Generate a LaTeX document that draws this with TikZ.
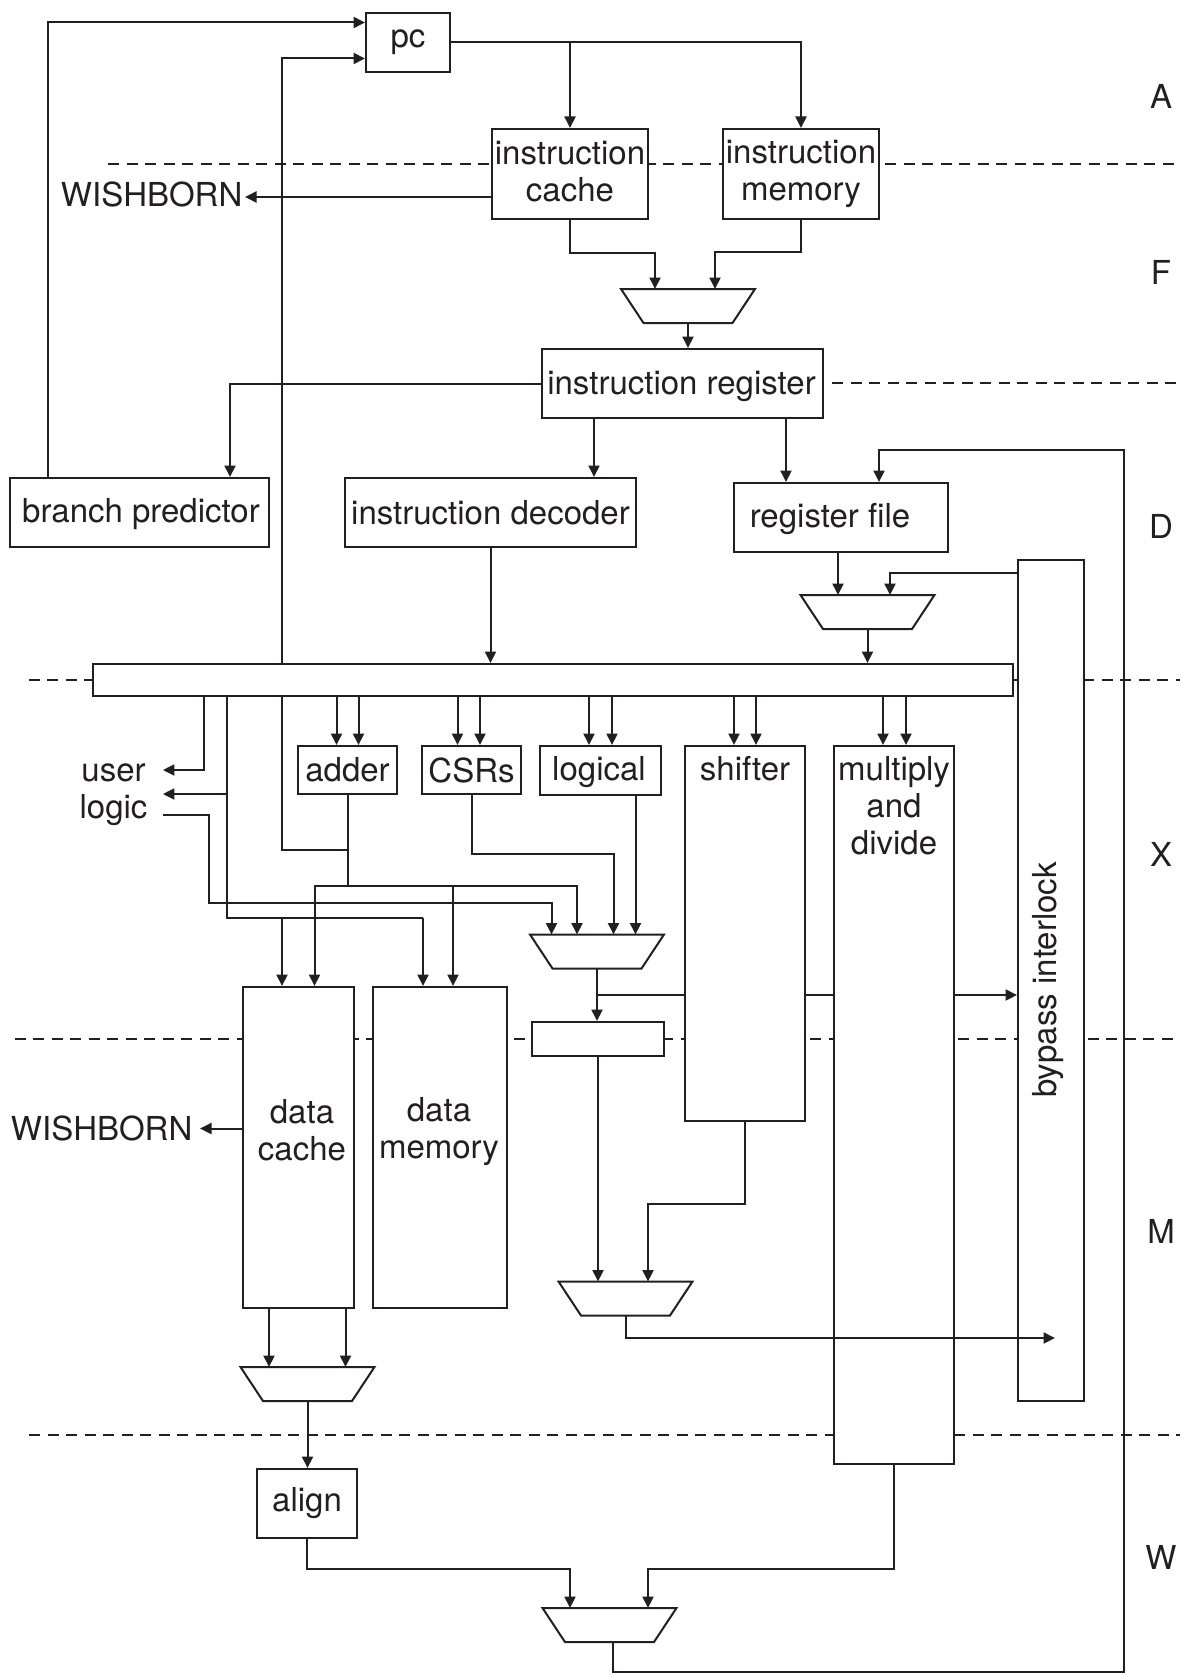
\documentclass[tikz,border=0pt]{standalone}
\usepackage{fontspec}
\setmainfont{TeX Gyre Heros}
\usetikzlibrary{arrows.meta}
\definecolor{ink}{HTML}{231F20}
\pgfdeclarelayer{bg}
\pgfdeclarelayer{fg}
\pgfsetlayers{bg,main,fg}
% multiplexer outline drawn on an invisible rectangular node
\newcommand\muxshape[1]{\draw[draw=ink, line width=2pt, fill=white]
  (#1.north west) -- (#1.north east) -- ([xshift=-22.5pt]#1.south east)
  -- ([xshift=22.5pt]#1.south west) -- cycle;}
\begin{document}
\begin{tikzpicture}[x=1pt,y=-1pt,
  wire/.style={draw=ink, line width=2pt},
  arr/.style={wire, -{Triangle[length=11.5pt,width=11pt]}},
  stage/.style={draw=ink, line width=2pt, dash pattern=on 11pt off 7.5pt},
  blk/.style={draw=ink, line width=2pt, fill=white, inner sep=0pt, align=center,
    text=ink, font=\fontsize{33}{37}\selectfont},
  lbl/.style={inner sep=0pt, align=center, text=ink, font=\fontsize{33}{37}\selectfont},
  muxbox/.style={inner sep=0pt, outer sep=0pt, minimum width=134pt, minimum height=34pt},
]
\useasboundingbox (0,0) rectangle (1192,1675);

% ---------- blocks ----------
\node[blk, minimum width=84pt,  minimum height=59pt]  (pc)      at (408,42.5)   {pc};
\node[blk, minimum width=156pt, minimum height=90pt]  (ic)      at (570,174)    {};
\node[blk, minimum width=156pt, minimum height=90pt]  (im)      at (801,174)    {};
\node[blk, minimum width=281pt, minimum height=69pt]  (ir)      at (682.5,383.5){};
\node[blk, minimum width=259pt, minimum height=69pt]  (bp)      at (139.5,512.5){};
\node[blk, minimum width=291pt, minimum height=69pt]  (id)      at (490.5,512.5){instruction decoder};
\node[blk, minimum width=214pt, minimum height=69pt]  (rf)      at (841,517.5)  {};
\node[blk, minimum width=920pt, minimum height=32pt]  (bus)     at (553,680)    {};
\node[blk, minimum width=66pt,  minimum height=841pt] (bypass)  at (1051,980.5) {};
\node[blk, minimum width=99pt,  minimum height=48pt]  (adder)   at (347.5,770)  {adder};
\node[blk, minimum width=99pt,  minimum height=48pt]  (csr)     at (471.5,770)  {CSRs};
\node[blk, minimum width=121pt, minimum height=49pt]  (logical) at (600.5,770.5){};
\node[blk, minimum width=120pt, minimum height=375pt] (shifter) at (745,933.5)  {};
\node[blk, minimum width=120pt, minimum height=718pt] (mult)    at (894,1105)   {};
\node[blk, minimum width=111pt, minimum height=321pt] (dc)      at (298.5,1147.5){};
\node[blk, minimum width=134pt, minimum height=321pt] (dm)      at (440,1147.5) {};
\node[blk, minimum width=132pt, minimum height=34pt]  (sreg)    at (598,1039)   {};
\node[blk, minimum width=100pt, minimum height=69pt]  (align)   at (307,1503.5) {align};

% ---------- multiplexers ----------
\node[muxbox] (m1) at (688,306)     {};
\node[muxbox] (m4) at (867.5,612)   {};
\node[muxbox] (m2) at (597,951.5)   {};
\node[muxbox] (m3) at (625.5,1298.5){};
\node[muxbox] (m6) at (307.5,1384)  {};
\node[muxbox] (m5) at (609.5,1625)  {};
\muxshape{m1}\muxshape{m4}\muxshape{m2}\muxshape{m3}\muxshape{m6}\muxshape{m5}

% ---------- texts ----------
\node[lbl] (ictxt)  at (570,171.5)  {instruction\\cache};
\node[lbl] (imtxt)  at (801,173.5)  {instruction\\memory};
\node[lbl] (irtxt)  at (681.5,386.5){instruction register};
\node[lbl] (bptxt)  at (141,514.5)  {branch predictor};
\node[lbl] (rftxt)  at (830,519)    {register file};
\node[lbl] (lgtxt)  at (599,772)    {logical};
\node[lbl] (shtxt)  at (745,769)    {shifter};
\node[lbl] (mdtxt)  at (894,806)    {multiply\\and\\divide};
\node[lbl] (dctxt)  at (302,1130)   {data\\cache};
\node[lbl] (dmtxt)  at (439,1131.5) {data\\memory};
\node[lbl, rotate=90] (bitxt) at (1048,980) {bypass interlock};
\node[lbl, outer xsep=15.5pt] (ul) at (113.5,794.3) {user\\logic};
\node[lbl, anchor=east] (wb1) at (242.5,194.5)  {WISHBORN};
\node[lbl, anchor=east] (wb2) at (192.5,1128.5) {WISHBORN};
\node[lbl] (sA) at (1161,96)   {A};
\node[lbl] (sF) at (1161,272)  {F};
\node[lbl] (sD) at (1161,526)  {D};
\node[lbl] (sX) at (1161,854)  {X};
\node[lbl] (sM) at (1161,1231) {M};
\node[lbl] (sW) at (1161,1557) {W};
\coordinate (bpin) at (1055,1338);

% ---------- stage boundaries and wiring below the blocks ----------
\begin{pgfonlayer}{bg}
\fill[white] (0,0) rectangle (1192,1675);
\draw[stage] (108,164.3)   -- (1180,164.3);
\draw[stage] (832,383.3)   -- (1180,383.3);
\draw[stage] (28.7,680)    -- (1180,680);
\draw[stage] (14.5,1038.7) -- (1180,1038.7);
\draw[stage] (29,1435.3)   -- (1180,1435.3);

% fetch
\draw[arr] (pc.east) -| (im.north);
\draw[arr] (ic.north |- pc.east) -- (ic.north);
\draw[arr] (ic.south) -- ++(0,32.5) -| (655,0 |- m1.north);
\draw[arr] (im.south) -- ++(0,32) -| (715,0 |- m1.north);
\draw[arr] (m1.south) -- (m1.south |- ir.north);
\draw[arr] (ic.west |- 0,197) -- ([xshift=2.5pt,yshift=-2.5pt]wb1.east);

% next pc
\draw[arr] (48,0 |- bp.north) |- ([yshift=20pt]pc.west);
\draw[arr] (adder.south |- 0,850) -- (282,850) |- ([yshift=-16pt]pc.west);

% decode
\draw[arr] (ir.west) -| (230,0 |- bp.north);
\draw[arr] (594,0 |- ir.south) -- (594,0 |- id.north);
\draw[arr] (786,0 |- ir.south) -- (786,0 |- rf.north);
\draw[arr] (613,0 |- m5.south) -- (613,1672) -| (1124,450) -| (879,0 |- rf.north);
\draw[arr] (838,0 |- rf.south) -- (838,0 |- m4.north);
\draw[arr] (bypass.west |- 0,573) -| (890,0 |- m4.north);
\draw[arr] (m4.south) -- (m4.south |- bus.north);
\draw[arr] (id.south) -- (id.south |- bus.north);

% execute operands
\draw[arr] (204,0 |- bus.south) |- (ul.east |- 0,770);
\draw[wire] (227,0 |- bus.south) |- (423,918);
\draw[arr] (423,918) -- (423,0 |- dm.north);
\draw[arr] (227,794) -- (ul.east |- 0,794);
\draw[arr] (282,918) -- (282,0 |- dc.north);
\draw[arr] (ul.east |- 0,815) -| (209,903) -| (551.5,0 |- m2.north);
\foreach \x in {336.5,358.5} \draw[arr] (\x,0 |- bus.south) -- (\x,0 |- adder.north);
\foreach \x in {457.5,480}   \draw[arr] (\x,0 |- bus.south) -- (\x,0 |- csr.north);
\foreach \x in {589,612}     \draw[arr] (\x,0 |- bus.south) -- (\x,0 |- logical.north);
\foreach \x in {734,756}     \draw[arr] (\x,0 |- bus.south) -- (\x,0 |- shifter.north);
\foreach \x in {883,906}     \draw[arr] (\x,0 |- bus.south) -- (\x,0 |- mult.north);

% execute results
\draw[arr] (adder.south) -- (adder.south |- 0,886) -| (577,0 |- m2.north);
\draw[arr] (adder.south |- 0,886) -| (314.5,0 |- dc.north);
\draw[arr] (453,886) -- (453,0 |- dm.north);
\draw[arr] (csr.south) |- (613.5,854) -- (613.5,0 |- m2.north);
\draw[arr] (635.5,0 |- logical.south) -- (635.5,0 |- m2.north);
\draw[arr] (m2.south) -- (m2.south |- sreg.north);
\draw[arr] (m2.south |- 0,995) -- (bypass.west |- 0,995);

% memory and writeback
\draw[arr] (sreg.south) -- (sreg.south |- m3.north);
\draw[arr] (shifter.south) -- ++(0,82) -| (648,0 |- m3.north);
\foreach \x in {269,345.5} \draw[arr] (\x,0 |- dc.south) -- (\x,0 |- m6.north);
\draw[arr] (m6.south) -- (m6.south |- align.north);
\draw[arr] (dc.west |- wb2.east) -- ([xshift=7.5pt]wb2.east);
\draw[arr] (align.south) -- ++(0,30) -| (570,0 |- m5.north);
\draw[arr] (mult.south) -- ++(0,104) -| (648,0 |- m5.north);
\end{pgfonlayer}

% ---------- wiring drawn over the blocks ----------
\begin{pgfonlayer}{fg}
\draw[arr] (625.5,0 |- m3.south) |- (bpin);
\end{pgfonlayer}
\end{tikzpicture}
\end{document}
